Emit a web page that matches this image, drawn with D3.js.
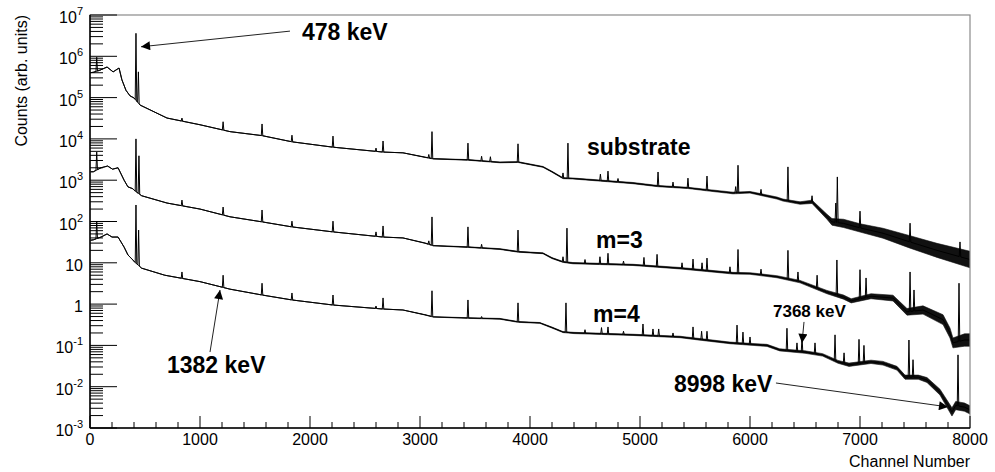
<!DOCTYPE html>
<html>
<head>
<meta charset="utf-8">
<script src="https://cdn.jsdelivr.net/npm/d3@7"></script>
<style>
  body { margin: 0; background: #fff; }
  text { font-family: "Liberation Sans", Arial, Helvetica, sans-serif; }
</style>
</head>
<body>
<div id="chart"></div>
<script>
// continuum: [channel, counts, noise half-width in decades]
var substrateBase = [
  [0, 4.0e5, 0], [30, 4.1e5, 0], [90, 4.6e5, 0], [155, 5.5e5, 0], [210, 4.2e5, 0], [264, 5.2e5, 0],
  [290, 2.7e5, 0], [327, 1.5e5, 0], [364, 1.1e5, 0], [400, 9.8e4, 0], [455, 6.6e4, 0], [700, 3.2e4, 0],
  [1000, 2.2e4, 0], [1273, 1.5e4, 0], [1564, 1.2e4, 0], [1836, 8.5e3, 0], [2209, 6.3e3, 0], [2664, 4.8e3, 0],
  [2845, 4.6e3, 0], [3045, 3.6e3, 0.005], [3120, 3.3e3, 0.005], [3436, 3.1e3, 0.008], [3727, 2.7e3, 0.01],
  [3891, 2.75e3, 0.01], [4118, 2.1e3, 0.01], [4200, 1.6e3, 0.012], [4300, 1.12e3, 0.012], [4390, 1.1e3, 0.012],
  [4936, 850, 0.015], [5164, 720, 0.015], [5436, 650, 0.015], [5609, 575, 0.018], [5845, 490, 0.02],
  [6000, 510, 0.02], [6245, 370, 0.025], [6300, 330, 0.025], [6455, 280, 0.03], [6564, 300, 0.04],
  [6700, 130, 0.06], [6745, 98, 0.08], [6850, 90, 0.1], [7000, 70, 0.1], [7209, 52, 0.12], [7455, 32, 0.15],
  [7700, 20, 0.17], [8000, 12, 0.2]
];
// lines: [channel, counts at top]
var substratePeaks = [
  [61, 9.5e5], [418, 3.6e6], [440, 4.2e5], [836, 3.2e4], [1210, 2.6e4], [1564, 2.3e4], [1836, 1.23e4],
  [2209, 1.17e4], [2600, 6.0e3], [2664, 8.9e3], [3080, 4.2e3], [3109, 1.5e4], [3436, 7.9e3], [3560, 3.8e3],
  [3640, 3.7e3], [3891, 7.6e3], [4300, 1.5e3], [4345, 7.9e3], [4640, 1.4e3], [4709, 1.66e3], [4800, 1.1e3],
  [5164, 1.58e3], [5300, 900], [5436, 1.12e3], [5609, 1.26e3], [5870, 700], [5891, 2.3e3], [6100, 600],
  [6345, 2.1e3], [6564, 420], [6780, 280], [6794, 1.2e3], [7000, 178], [7455, 91], [7909, 32]
];

var m3Base = [
  [0, 1.6e3, 0], [30, 1.6e3, 0], [100, 2.0e3, 0], [160, 2.2e3, 0], [205, 1.85e3, 0], [255, 2.0e3, 0],
  [310, 1.0e3, 0], [345, 690, 0], [390, 620, 0], [405, 560, 0], [470, 420, 0], [700, 280, 0],
  [1000, 200, 0], [1273, 130, 0], [1564, 98, 0], [1836, 74, 0], [2209, 56, 0], [2664, 42, 0],
  [2845, 40, 0], [3045, 30, 0.005], [3120, 26, 0.005], [3436, 24, 0.008], [3727, 21.5, 0.01],
  [3891, 18.5, 0.01], [4118, 17, 0.01], [4200, 13, 0.012], [4300, 10.5, 0.012], [4390, 9.8, 0.015],
  [4936, 8.9, 0.015], [5364, 7.4, 0.018], [5845, 5.6, 0.02], [6000, 5.5, 0.02], [6245, 4.6, 0.025],
  [6455, 3.5, 0.03], [6700, 1.95, 0.04], [6850, 1.48, 0.05], [6920, 1.2, 0.05], [7100, 1.55, 0.06],
  [7300, 1.4, 0.07], [7427, 0.65, 0.08], [7573, 0.72, 0.1], [7755, 0.42, 0.12], [7818, 0.2, 0.12],
  [7845, 0.115, 0.12], [7950, 0.135, 0.15], [8000, 0.135, 0.15]
];
var m3Peaks = [
  [61, 4.8e3], [418, 1.0e4], [445, 3.9e3], [836, 330], [1210, 224], [1564, 190], [1836, 102], [2209, 102],
  [2600, 56], [2664, 78], [3080, 34], [3109, 129], [3436, 74], [3560, 28], [3891, 62], [4300, 14],
  [4336, 69], [4500, 12], [4636, 14], [4709, 17], [4850, 11], [5036, 13.5], [5155, 16], [5382, 10],
  [5482, 12.3], [5564, 10], [5609, 13], [5818, 8], [5891, 21], [6100, 7], [6345, 20], [6436, 6],
  [6610, 5], [6790, 11.7], [7000, 6.8], [7055, 4.3], [7455, 6.0], [7491, 2.2], [7900, 3.2]
];

var m4Base = [
  [0, 35, 0], [30, 36, 0], [100, 42, 0], [155, 50, 0], [200, 42, 0], [255, 42, 0], [310, 24, 0],
  [345, 15.5, 0], [390, 11.7, 0], [405, 10.5, 0], [470, 7.4, 0], [680, 5.0, 0], [1000, 3.5, 0],
  [1273, 2.3, 0], [1564, 1.66, 0], [1836, 1.26, 0], [2209, 0.95, 0], [2664, 0.76, 0], [2845, 0.72, 0],
  [3045, 0.55, 0.005], [3120, 0.49, 0.005], [3436, 0.46, 0.008], [3727, 0.44, 0.01], [3891, 0.37, 0.01],
  [4090, 0.35, 0.01], [4200, 0.27, 0.012], [4300, 0.21, 0.012], [4400, 0.2, 0.015], [4936, 0.18, 0.015],
  [5364, 0.16, 0.018], [5545, 0.14, 0.02], [5818, 0.115, 0.02], [6155, 0.1, 0.025], [6270, 0.078, 0.025],
  [6500, 0.069, 0.03], [6660, 0.059, 0.03], [6800, 0.04, 0.035], [6900, 0.034, 0.04], [7100, 0.04, 0.04],
  [7209, 0.037, 0.045], [7336, 0.028, 0.045], [7409, 0.017, 0.05], [7530, 0.017, 0.05], [7609, 0.0145, 0.06],
  [7727, 0.0074, 0.07], [7836, 0.00245, 0.1], [7870, 0.0035, 0.1], [7950, 0.0032, 0.1], [8000, 0.00275, 0.1]
];
var m4Peaks = [
  [61, 98], [418, 251], [442, 62], [836, 6], [1210, 5.0], [1564, 3.2], [1836, 1.86], [2209, 1.66],
  [2600, 0.9], [2664, 1.41], [3109, 2.1], [3436, 1.26], [3560, 0.5], [3891, 1.07], [4327, 1.07],
  [4500, 0.24], [4650, 0.27], [4709, 0.28], [4850, 0.22], [5027, 0.33], [5118, 0.25], [5170, 0.25],
  [5300, 0.2], [5482, 0.28], [5560, 0.22], [5609, 0.22], [5882, 0.31], [5936, 0.21], [6000, 0.16],
  [6336, 0.26], [6427, 0.115], [6473, 0.16], [6591, 0.115], [6773, 0.18], [6855, 0.066], [6991, 0.14],
  [7036, 0.10], [7445, 0.135], [7482, 0.045], [7891, 0.059]
];

var xTickLabels = ["0", "1000", "2000", "3000", "4000", "5000", "6000", "7000", "8000"];
var yDecades = [-3, -2, -1, 0, 1, 2, 3, 4, 5, 6, 7];

// series names, placed at [channel, counts]
var seriesLabels = [
  {text: "substrate", at: [4518, 4070]},
  {text: "m=3", at: [4600, 22.9]},
  {text: "m=4", at: [4573, 0.37]}
];
// energy notes: arrow from tail to tip, text at [channel, counts]
var notes = [
  {text: "478 keV", at: [1927, 2.45e6], tail: [1818, 4.07e6], tip: [464, 1.7e6], small: false},
  {text: "1382 keV", at: [700, 0.0214], tail: [1091, 0.069], tip: [1182, 2.19], small: false},
  {text: "8998 keV", at: [5309, 0.0074], tail: [6236, 0.0123], tip: [7800, 0.00324], small: false},
  {text: "7368 keV", at: [6209, 0.49], tail: [6491, 0.37], tip: [6473, 0.115], small: true}
];

////////////////////////////////////////////////////////////
var margin = {left: 90, top: 15, right: 25, bottom: 44},
    width = 995 - margin.left - margin.right,
    height = 472 - margin.top - margin.bottom;

var x = d3.scaleLinear().domain([0, 8000]).range([0, width]);
var y = d3.scaleLog().domain([1e-3, 1e7]).range([height, 0]);

var svg = d3.select("#chart").append("svg")
    .attr("width", width + margin.left + margin.right)
    .attr("height", height + margin.top + margin.bottom);

var defs = svg.append("defs");
defs.append("clipPath").attr("id", "plotclip")
  .append("rect").attr("width", width).attr("height", height);
defs.append("marker")
    .attr("id", "head")
    .attr("viewBox", "0 0 10 10")
    .attr("refX", 10).attr("refY", 5)
    .attr("markerUnits", "userSpaceOnUse")
    .attr("markerWidth", 11).attr("markerHeight", 9)
    .attr("orient", "auto")
  .append("path").attr("d", "M0,0L10,5L0,10z").attr("fill", "#000");

var g = svg.append("g")
    .attr("transform", "translate(" + margin.left + "," + margin.top + ")");

//////////////////// spectra ////////////////////
var halfW = 7;

function buildSpectrum(base, peaks) {
  // continuum in log space, used to find the foot of each line
  var logBase = d3.scaleLinear()
      .domain(base.map(function(d) { return d[0]; }))
      .range(base.map(function(d) { return Math.log10(d[1]); }))
      .clamp(true);
  var pts = base.filter(function(b) {
    return !peaks.some(function(p) { return Math.abs(p[0] - b[0]) <= halfW; });
  }).map(function(d) { return [d[0], d[1]]; });
  peaks.forEach(function(p) {
    pts.push([p[0] - halfW, Math.pow(10, logBase(p[0] - halfW))]);
    pts.push([p[0], p[1]]);
    pts.push([p[0] + halfW, Math.pow(10, logBase(p[0] + halfW))]);
  });
  pts.sort(function(a, b) { return a[0] - b[0]; });
  return pts;
}

var line = d3.line()
    .x(function(d) { return x(d[0]); })
    .y(function(d) { return y(d[1]); });

var band = d3.area()
    .x(function(d) { return x(d[0]); })
    .y0(function(d) { return y(d[1] * Math.pow(10, -d[2])); })
    .y1(function(d) { return y(d[1] * Math.pow(10, d[2])); });

var plot = g.append("g").attr("clip-path", "url(#plotclip)");

[[substrateBase, substratePeaks], [m3Base, m3Peaks], [m4Base, m4Peaks]].forEach(function(s) {
  plot.append("path")
      .attr("d", band(s[0]))
      .attr("fill", "#111")
      .attr("stroke", "#111")
      .attr("stroke-width", 0.6);
  plot.append("path")
      .attr("d", line(buildSpectrum(s[0], s[1])))
      .attr("fill", "none")
      .attr("stroke", "#000")
      .attr("stroke-width", 1)
      .attr("stroke-linejoin", "round");
});

//////////////////// frame & axes ////////////////////
g.append("rect")
    .attr("width", width).attr("height", height)
    .attr("fill", "none").attr("stroke", "#8a8a8a").attr("stroke-width", 1.2);

g.append("line").attr("x1", 0).attr("x2", 0).attr("y1", 0).attr("y2", height)
    .attr("stroke", "#000").attr("stroke-width", 1.5);
g.append("line").attr("x1", 0).attr("x2", width).attr("y1", height).attr("y2", height)
    .attr("stroke", "#000").attr("stroke-width", 1.5);

// x ticks: major every 1000, minor every 200, pointing up
var xt = g.append("g");
d3.range(0, 8001, 200).forEach(function(v) {
  var major = v % 1000 === 0;
  xt.append("line")
      .attr("x1", x(v)).attr("x2", x(v))
      .attr("y1", height).attr("y2", height - (major ? 12 : 6))
      .attr("stroke", "#000").attr("stroke-width", 1);
});
xt.selectAll("text.xl")
    .data(xTickLabels)
  .enter().append("text")
    .attr("class", "xl")
    .attr("x", function(d) { return x(+d); })
    .attr("y", height + 17)
    .attr("text-anchor", "middle")
    .attr("font-size", 16)
    .text(function(d) { return d; });

// y ticks: decades long, 2..9 short, pointing right
var yt = g.append("g");
yDecades.forEach(function(e) {
  yt.append("line")
      .attr("x1", 0).attr("x2", 27)
      .attr("y1", y(Math.pow(10, e))).attr("y2", y(Math.pow(10, e)))
      .attr("stroke", "#000").attr("stroke-width", 1);
  if (e < 7) {
    d3.range(2, 10).forEach(function(m) {
      var v = m * Math.pow(10, e);
      yt.append("line")
          .attr("x1", 0).attr("x2", 13)
          .attr("y1", y(v)).attr("y2", y(v))
          .attr("stroke", "#000").attr("stroke-width", 1);
    });
  }
  var t = yt.append("text")
      .attr("x", -7)
      .attr("y", y(Math.pow(10, e)) + 8)
      .attr("text-anchor", "end")
      .attr("font-size", 16);
  if (e === 0) t.text("1");
  else if (e === 1) t.text("10");
  else {
    t.append("tspan").text("10");
    t.append("tspan").attr("dy", -8).attr("font-size", 11).text(e);
  }
});

// axis titles
svg.append("text")
    .attr("transform", "translate(27," + margin.top + ") rotate(-90)")
    .attr("text-anchor", "end")
    .attr("font-size", 16)
    .text("Counts (arb. units)");
svg.append("text")
    .attr("x", margin.left + width)
    .attr("y", 467)
    .attr("text-anchor", "end")
    .attr("font-size", 16)
    .text("Channel Number");

//////////////////// labels & arrows ////////////////////
g.selectAll("text.series")
    .data(seriesLabels)
  .enter().append("text")
    .attr("class", "series")
    .attr("x", function(d) { return x(d.at[0]); })
    .attr("y", function(d) { return y(d.at[1]); })
    .attr("font-size", 23)
    .attr("font-weight", "bold")
    .text(function(d) { return d.text; });

g.selectAll("line.arrow")
    .data(notes)
  .enter().append("line")
    .attr("class", "arrow")
    .attr("x1", function(d) { return x(d.tail[0]); })
    .attr("y1", function(d) { return y(d.tail[1]); })
    .attr("x2", function(d) { return x(d.tip[0]); })
    .attr("y2", function(d) { return y(d.tip[1]); })
    .attr("stroke", "#222")
    .attr("stroke-width", 1)
    .attr("marker-end", "url(#head)");

g.selectAll("text.note")
    .data(notes)
  .enter().append("text")
    .attr("class", "note")
    .attr("x", function(d) { return x(d.at[0]); })
    .attr("y", function(d) { return y(d.at[1]); })
    .attr("font-size", function(d) { return d.small ? 17 : 23; })
    .attr("font-weight", "bold")
    .text(function(d) { return d.text; });
</script>
</body>
</html>
